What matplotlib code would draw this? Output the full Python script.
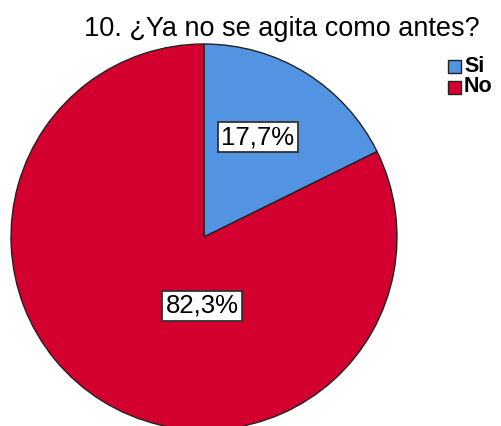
import matplotlib.pyplot as plt

labels = ["Si", "No"]
values = [17.7, 82.3]
pct_text = ["17,7%", "82,3%"]
colors = ["#5294e2", "#d3002f"]

W, H = 501, 426
fig = plt.figure(figsize=(W / 100, H / 100), dpi=100)
ax = fig.add_axes([0, 0, 1, 1])

cx, cy, r = 204, H - 237, 193
ax.pie(
    values,
    colors=colors,
    startangle=90,
    counterclock=False,
    center=(cx, cy),
    radius=r,
    wedgeprops=dict(edgecolor="#222222", linewidth=1.0),
    frame=True,
)
ax.set_xlim(0, W)
ax.set_ylim(0, H)
ax.set_aspect("equal")
ax.axis("off")

# etiquetas de porcentaje
label_pos = [(258, H - 137), (202, H - 306)]
for (x, y), t in zip(label_pos, pct_text):
    ax.text(x, y, t, ha="center", va="center", fontsize=18.5,
            family="Liberation Sans",
            bbox=dict(boxstyle="square,pad=0.13", facecolor="white",
                      edgecolor="#333333", linewidth=1.3))

# titulo
ax.text(282, H - 36, "10. ¿Ya no se agita como antes?",
        ha="center", va="baseline", fontsize=19.5, family="Liberation Sans")

# leyenda
for i, (lab, c) in enumerate(zip(labels, colors)):
    y = H - 66 - i * 21
    ax.add_patch(plt.Rectangle((448, y - 7), 13, 13, facecolor=c,
                               edgecolor="#222222", linewidth=1.0))
    ax.text(464, y, lab, ha="left", va="center", fontsize=15.5,
            fontweight="bold", family="Liberation Sans")

fig.savefig("out.png", dpi=100, facecolor="white")
